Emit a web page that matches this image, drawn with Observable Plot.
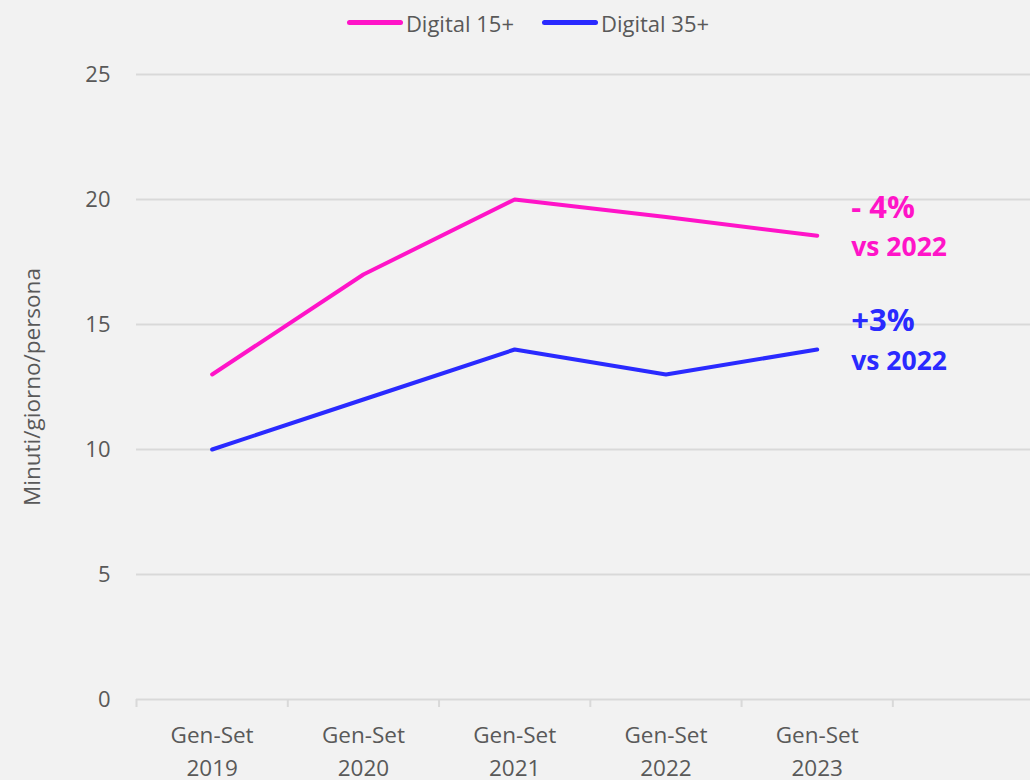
<!DOCTYPE html>
<html>
<head>
<meta charset="utf-8">
<script src="https://cdn.jsdelivr.net/npm/d3@7"></script>
<script src="https://cdn.jsdelivr.net/npm/@observablehq/plot@0.6"></script>
<style>
  html, body { margin: 0; padding: 0; background: #f2f2f2; }
  body { width: 1030px; height: 780px; overflow: hidden; font-family: "Open Sans", sans-serif; }
  #legend { height: 45px; display: flex; justify-content: center; align-items: center; color: #595959; font-size: 22px; padding-left: 26px; box-sizing: border-box; }
  .item { display: flex; align-items: center; margin: 0 14px; }
  .sw { width: 56px; height: 5px; border-radius: 3px; margin-right: 3px; }
  svg { display: block; }
</style>
</head>
<body>
<div id="legend"></div>
<div id="chart"></div>
<script>
const categories = ["Gen-Set\n2019", "Gen-Set\n2020", "Gen-Set\n2021", "Gen-Set\n2022", "Gen-Set\n2023"];
const seriesNames = ["Digital 15+", "Digital 35+"];
const digital15 = [13, 17, 20, 19.3, 18.55];
const digital35 = [10, 12, 14, 13, 14];
const colors = ["#ff14c8", "#2a2aff"];
const annotPct = ["- 4%", "+3%"];
const annotVs = ["vs 2022", "vs 2022"];
const yTicks = [0, 5, 10, 15, 20, 25];
const yLabel = "Minuti/giorno/persona";

const data = [];
[digital15, digital35].forEach((vals, s) => vals.forEach((v, i) => data.push({series: seriesNames[s], i, v})));
const last = [digital15, digital35].map((vals, s) => ({series: seriesNames[s], i: vals.length - 1, v: vals[vals.length - 1], pct: annotPct[s], vs: annotVs[s]}));

// legend
const lg = document.getElementById("legend");
seriesNames.forEach((n, s) => {
  const it = document.createElement("div"); it.className = "item";
  const sw = document.createElement("div"); sw.className = "sw"; sw.style.background = colors[s];
  const tx = document.createElement("span"); tx.textContent = n;
  it.append(sw, tx); lg.append(it);
});

const idx = categories.map((_, i) => i);
const edges = [-0.5, 0.5, 1.5, 2.5, 3.5, 4.5];

const chart = Plot.plot({
  width: 1030,
  height: 735,
  marginLeft: 136,
  marginRight: 0,
  marginTop: 29,
  marginBottom: 81,
  style: {background: "#f2f2f2", fontFamily: "Open Sans, sans-serif"},
  x: {type: "linear", domain: [-0.5, 5.41], axis: null},
  y: {domain: [0, 25], axis: null},
  color: {domain: seriesNames, range: colors},
  marks: [
    Plot.ruleY(yTicks, {stroke: "#d9d9d9", strokeWidth: 2}),
    Plot.axisX(edges, {tickSize: 8, tickFormat: () => "", stroke: "#d9d9d9", strokeWidth: 2, label: null}),
    Plot.axisX(idx, {tickSize: 0, tickPadding: 20, tickFormat: i => categories[i], fontSize: 22.5, fill: "#595959", lineHeight: 1.47, lineAnchor: "top", label: null}),
    Plot.axisY(yTicks, {tickSize: 0, tickPadding: 26, fontSize: 22, fill: "#595959", label: null}),
    Plot.text([yLabel], {frameAnchor: "left", dx: -104, rotate: -90, textAnchor: "middle", fontSize: 22.5, fill: "#595959"}),
    Plot.line(data, {x: "i", y: "v", z: "series", stroke: "series", strokeWidth: 4, strokeLinecap: "round", strokeLinejoin: "round"}),
    Plot.text(last, {x: "i", y: "v", text: "pct", fill: "series", textAnchor: "start", dx: 34, dy: -28, fontSize: 31, fontWeight: "bold"}),
    Plot.text(last, {x: "i", y: "v", text: "vs", fill: "series", textAnchor: "start", dx: 34, dy: 12, fontSize: 26.5, fontWeight: "bold"})
  ]
});
document.getElementById("chart").append(chart);
</script>
</body>
</html>
